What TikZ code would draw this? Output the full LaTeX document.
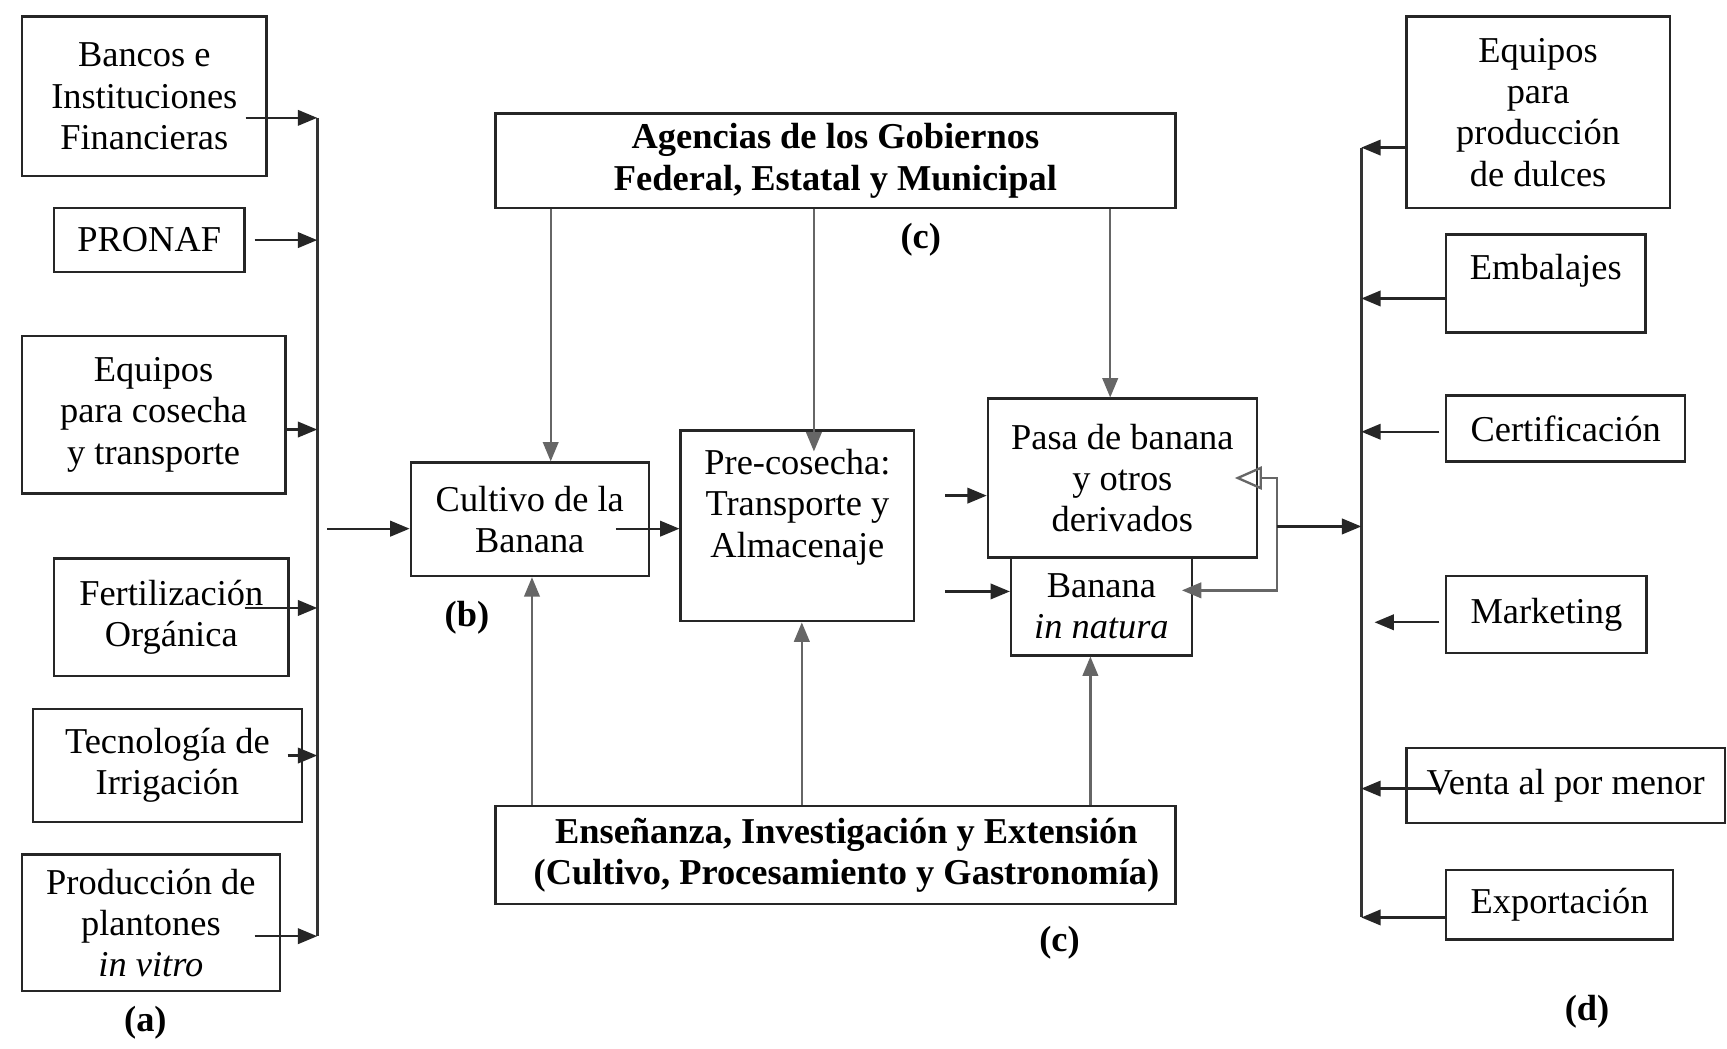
\documentclass[tikz,border=0pt]{standalone}
\usepackage{fontspec}
\setmainfont{Liberation Serif}
\usetikzlibrary{arrows.meta}
\tikzset{
  box/.style={draw=black!85, line width=0.6pt, inner sep=0pt, align=center,
    font=\fontsize{9.4}{10.7}\selectfont},
  arr/.style={-{Triangle[length=5pt,width=4pt]}, draw=black!85, line width=0.6pt},
  varr/.style={arr, draw=black!60},
  bus/.style={draw=black!80, line width=0.8pt},
  tag/.style={font=\fontsize{9.4}{10.7}\selectfont\bfseries}
}
\begin{document}
\begin{tikzpicture}[x=0.01cm, y=-0.01cm]
  \useasboundingbox (0,0) rectangle (1568,952);
  \fill[white] (0,0) rectangle (1568,952);
  % suppliers (a)
  \node[box, minimum width=2.22cm, minimum height=1.45cm] (bancos) at (131,87.5) {Bancos e\\Instituciones\\Financieras};
  \node[box, minimum width=1.73cm, minimum height=0.58cm] (pronaf) at (135.5,218) {PRONAF};
  \node[box, minimum width=2.39cm, minimum height=1.43cm] (cosecha) at (139.5,376.5) {Equipos\\para cosecha\\y transporte};
  \node[box, minimum width=2.13cm, minimum height=1.07cm] (fertil) at (155.5,560.5) {Fertilización\\Orgánica};
  \node[box, minimum width=2.44cm, minimum height=1.02cm] (irrig) at (152,695) {Tecnología de\\Irrigación};
  \node[box, minimum width=2.34cm, minimum height=1.24cm] (plantones) at (137,838) {Producción de\\plantones\\\textit{in vitro}};
  \node[tag] (taga) at (132,929) {(a)};
  % chain (b) and support (c)
  \node[box, minimum width=6.17cm, minimum height=0.86cm, font=\fontsize{9.4}{10.7}\selectfont\bfseries] (agencias) at (758.5,146) {Agencias de los Gobiernos\\Federal, Estatal y Municipal};
  \node[box, minimum width=2.16cm, minimum height=1.03cm] (cultivo) at (481,471.5) {Cultivo de la\\Banana};
  \node[box, minimum width=2.12cm, minimum height=1.73cm, text depth=0.41cm] (precos) at (724,477.5) {Pre-cosecha:\\Transporte y\\Almacenaje};
  \node[box, minimum width=2.44cm, minimum height=1.44cm] (pasa) at (1019,434) {Pasa de banana\\y otros\\derivados};
  \node[box, minimum width=1.64cm, minimum height=0.89cm] (natura) at (1000,550.5) {Banana\\\textit{in natura}};
  \node[box, minimum width=6.17cm, minimum height=0.89cm, font=\fontsize{9.4}{10.7}\selectfont\bfseries] (ensenanza) at (758.5,776.5) {\hspace*{0.2cm}Enseñanza, Investigación y Extensión\\\hspace*{0.2cm}(Cultivo, Procesamiento y Gastronomía)};
  \node[tag] (tagb) at (424,561) {(b)};
  \node[tag] (tagc) at (836,218) {(c)};
  \node[tag] (tagc2) at (962,856) {(c)};
  % markets (d)
  \node[box, minimum width=2.39cm, minimum height=1.74cm] (dulces) at (1396.5,102) {Equipos\\para\\producción\\de dulces};
  \node[box, minimum width=1.81cm, minimum height=0.89cm, text depth=0.31cm] (embalajes) at (1403.5,257.5) {Embalajes};
  \node[box, minimum width=2.17cm, minimum height=0.60cm] (certif) at (1421.5,389) {Certificación};
  \node[box, minimum width=1.82cm, minimum height=0.70cm] (marketing) at (1404,558) {Marketing};
  \node[box, minimum width=2.89cm, minimum height=0.68cm] (venta) at (1421.5,713) {Venta al por menor};
  \node[box, minimum width=2.06cm, minimum height=0.63cm] (export) at (1416,821.5) {Exportación};
  \node[tag] (tagd) at (1441,919) {(d)};

  % left collector
  \coordinate (lbus top) at (288,107);
  \coordinate (lbus bot) at (288,850);
  \draw[bus] (lbus top) -- (lbus bot);
  \draw[arr] ([shift={(-20,0)}]bancos.east |- lbus top) -- (lbus top);
  \draw[arr] ([shift={(8,0)}]pronaf.east) coordinate (s) -- (s -| lbus top);
  \draw[arr] ([shift={(0,13.5)}]cosecha.east) coordinate (s) -- (s -| lbus top);
  \draw[arr] ([shift={(-41,-8.5)}]fertil.east) coordinate (s) -- (s -| lbus top);
  \draw[arr] ([shift={(-14,-9)}]irrig.east) coordinate (s) -- (s -| lbus top);
  \draw[arr] ([shift={(-24,0)}]plantones.east |- lbus bot) -- (lbus bot);
  \draw[arr] ([shift={(9,8.5)}]lbus top |- cultivo.west) coordinate (s) -- (s -| cultivo.west);

  % chain
  \draw[arr] ([shift={(-31,8.5)}]cultivo.east) coordinate (s) -- (s -| precos.west);
  \coordinate (inpasa) at (858,450);
  \coordinate (innat) at (858,537);
  \draw[arr] (inpasa) -- (inpasa -| pasa.west);
  \draw[arr] (innat) -- (innat -| natura.west);
  \draw[varr, {Triangle[open,length=7pt,width=6pt]}-{Triangle[length=5pt,width=4pt]}]
    ([shift={(-21,0)}]pasa.east) -- ++(38,0) coordinate (loopx) |- ([shift={(-10,-14.5)}]natura.east);

  % support arrows
  \draw[varr] ([shift={(19,0)}]cultivo.north |- agencias.south) -- ([shift={(19,0)}]cultivo.north);
  \draw[varr] ([shift={(15,0)}]precos.north |- agencias.south) -- ([shift={(15,20)}]precos.north);
  \draw[varr] ([shift={(-11,0)}]pasa.north |- agencias.south) -- ([shift={(-11,0)}]pasa.north);
  \draw[varr] ([shift={(2,0)}]cultivo.south |- ensenanza.north) -- ([shift={(2,0)}]cultivo.south);
  \draw[varr] ([shift={(4,0)}]precos.south |- ensenanza.north) -- ([shift={(4,0)}]precos.south);
  \draw[varr] ([shift={(-10,0)}]natura.south |- ensenanza.north) -- ([shift={(-10,0)}]natura.south);

  % right collector
  \coordinate (rbus top) at (1236,134);
  \coordinate (rbus bot) at (1236,833);
  \draw[bus] (rbus top) -- (rbus bot);
  \draw[arr] ([shift={(0,44)}]loopx) coordinate (s) -- (s -| rbus top);
  \draw[arr] (dulces.west |- rbus top) -- (rbus top);
  \draw[arr] ([shift={(0,13.5)}]embalajes.west) coordinate (s) -- (s -| rbus top);
  \draw[arr] ([shift={(-5,3)}]certif.west) coordinate (s) -- (s -| rbus top);
  \draw[arr] ([shift={(-5,7)}]marketing.west) coordinate (s) -- ([shift={(12,0)}]s -| rbus top);
  \draw[arr] ([shift={(30,3)}]venta.west) coordinate (s) -- (s -| rbus top);
  \draw[arr] (export.west |- rbus bot) -- (rbus bot);
\end{tikzpicture}
\end{document}
